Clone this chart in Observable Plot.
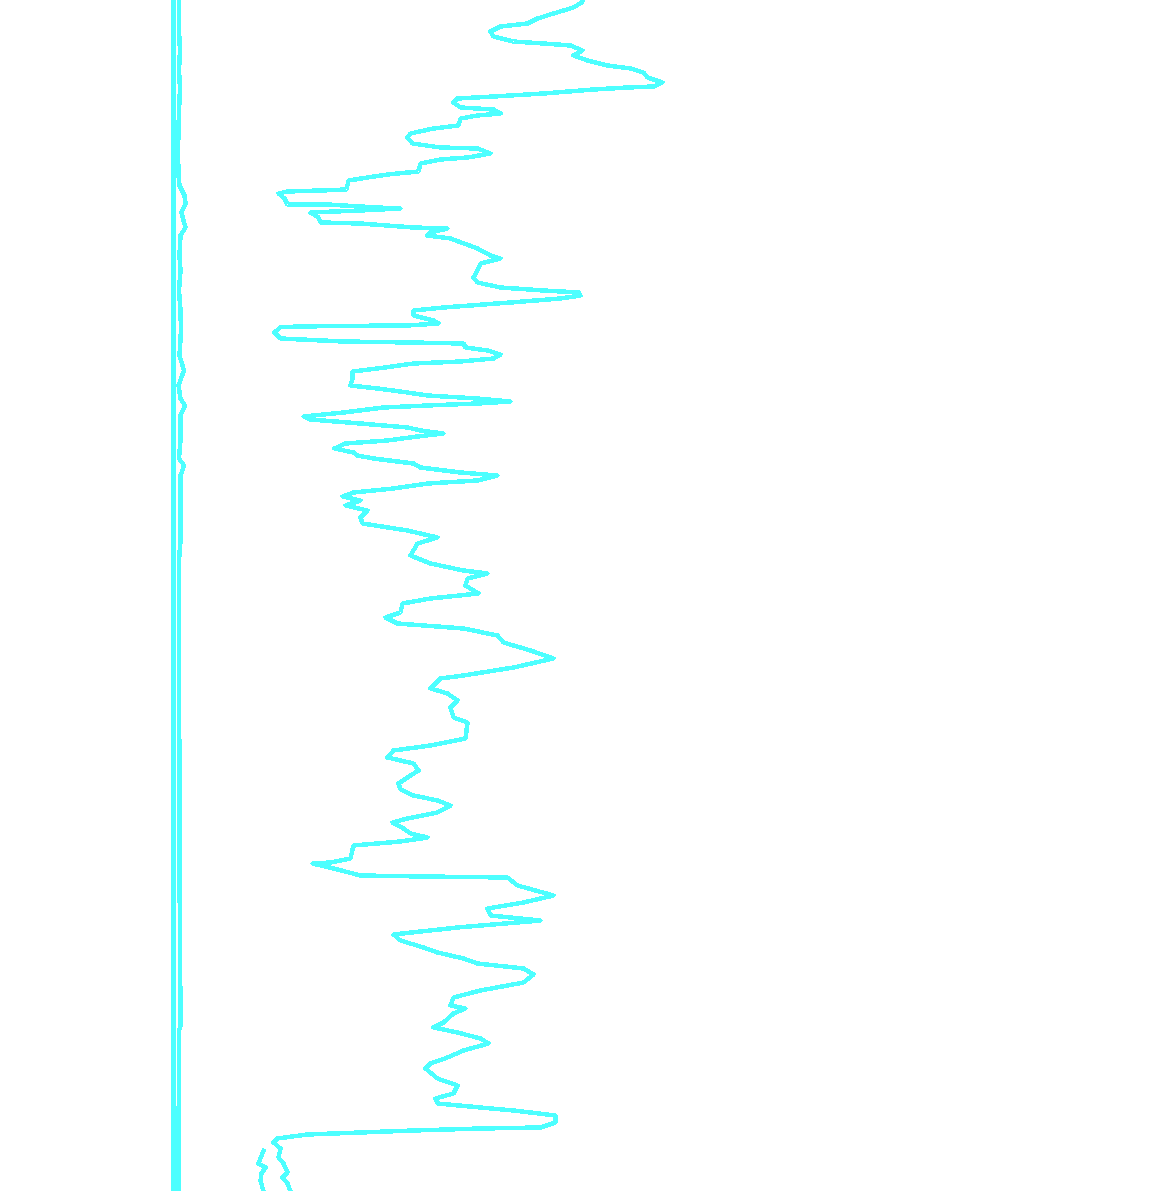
<!DOCTYPE html>
<html>
<head>
<meta charset="utf-8">
<script src="https://cdn.jsdelivr.net/npm/d3@7"></script>
<script src="https://cdn.jsdelivr.net/npm/@observablehq/plot@0.6"></script>
<style>
  html, body { margin: 0; padding: 0; background: #fff; overflow: hidden; }
  #chart svg { display: block; }
</style>
</head>
<body>
<div id="chart"></div>
<script>
// Main log curve: depth (m, relative) and value
const mainDepth = [0,0.2,0.7,1.3,1.8,2.3,2.6,3.1,3.6,4.1,4.3,4.5,5.0,5.5,6.0,6.5,6.8,7.2,7.7,8.2,8.6,8.7,8.9,9.3,9.6,9.8,10.2,10.7,10.9,11.3,11.5,11.8,12.5,12.8,13.3,13.7,14.3,14.7,14.8,15.3,15.7,15.9,16.3,17.1,17.4,17.7,18.0,18.9,19.0,19.1,19.3,19.8,20.4,20.4,20.7,20.8,21.0,21.2,21.7,22.2,22.3,22.7,22.8,23.2,23.5,23.8,24.8,25.5,25.8,26.3,26.8,27.7,28.2,28.7,29.0,29.2,29.5,29.8,30.2,30.7,31.0,31.5,32.0,32.3,32.5,32.55,32.65,33.2,33.8,34.1,34.2,34.3,34.7,35.0,35.4,35.8,36.1,36.3,36.8,37.1,37.8,38.5,38.8,39.2,39.5,39.8,40.1,40.3,40.5,40.7,41.2,41.6,41.9,42.3,42.7,43.0,43.3,43.6,44.0,44.3,44.8,45.2,45.5,45.8,46.3,46.7,47.2,47.5,48.0,48.3,48.8,49.2,49.6,50.0,50.5,51.0,51.7,52.3,53.0,53.7,54.3,55.5,56.3,57.0,57.3,57.8,58.5,59.3,59.8,60.3,61.2,61.7,62.3,62.8,63.5,64.2,65.0,65.8,66.7,67.5,67.8,68.8,69.3,70.0,70.7,71.7,72.2,73.8,74.5,75.0,75.7,76.3,77.0,77.5,78.3,78.9,79.5,80.0,80.5,81.2,81.8,82.2,82.8,83.3,83.7,84.1,84.5,85.8,86.2,86.3,86.8,87.5,87.6,87.7,88.5,89.5,90.2,90.8,91.5,92.0,92.7,93.4,94.0,94.7,95.2,95.8,96.3,96.8,97.4,98.2,99.0,99.7,100.5,100.8,101.3,102.2,102.7,103.2,103.8,104.3,105.0,105.7,106.3,106.8,107.8,108.5,109.3,109.8,110.3,110.7,111.0,111.5,112.2,112.7,112.8,113.0,113.4,113.8,114.2,114.8,115.7,116.3,117.2,117.7,118.3,119.1];
const mainValue = [58.2,58.1,57.3,55.3,53.7,52.7,50.0,49.0,49.3,51.3,54.3,57.0,58.2,57.3,58.7,60.7,63.0,64.3,64.7,66.2,65.3,62.7,59.3,54.3,49.3,45.7,45.3,46.0,49.3,50.0,47.7,46.0,45.8,43.3,41.0,40.7,41.2,44.0,47.7,49.0,46.7,44.0,42.0,41.8,38.7,36.7,34.8,34.6,32.0,28.7,27.8,28.4,28.7,32.7,37.7,40.0,36.0,31.0,31.8,32.0,36.0,41.3,44.7,43.0,42.7,45.0,47.7,49.0,50.0,48.0,47.8,47.3,47.7,50.0,54.3,57.8,58.0,56.0,51.0,44.3,41.3,41.3,43.3,43.8,40.7,33.0,28.0,27.4,28.0,34.3,41.0,46.3,46.5,48.7,50.0,49.3,46.0,41.3,37.7,35.2,35.2,35.0,37.7,40.7,42.7,47.7,51.0,47.7,42.7,38.3,34.3,30.3,31.0,36.0,40.7,42.0,44.3,41.7,38.7,34.5,33.4,35.3,35.7,37.3,41.3,42.0,46.0,49.7,47.7,42.7,39.3,35.3,34.2,36.0,34.5,36.7,36.0,36.2,40.7,43.7,41.7,41.0,43.0,46.3,48.7,46.7,46.5,47.8,43.0,40.2,40.0,38.5,39.7,46.3,49.7,50.3,53.0,55.3,51.3,46.3,44.0,43.0,44.7,45.7,45.0,45.3,46.7,46.5,43.0,39.3,38.7,41.3,41.8,41.0,39.8,40.0,41.3,43.7,45.0,43.7,40.7,39.2,40.3,41.0,42.7,40.0,35.3,35.0,33.0,31.2,33.3,36.0,42.3,50.7,51.7,55.3,52.3,48.7,49.0,54.0,45.7,39.3,40.0,42.3,43.7,46.3,47.7,52.3,53.3,52.3,48.0,45.3,45.0,46.5,45.3,44.3,43.3,45.7,48.0,48.8,46.3,44.7,43.0,42.5,43.7,45.7,45.3,43.5,43.7,48.0,51.3,55.5,55.5,54.0,48.0,41.3,30.7,27.7,27.3,28.0,27.8,28.3,28.7,28.2,28.7,29.0];

// Near-constant reference trace
const refDepth = [0, 119.1];
const refValue = [17.3, 17.3];

// Second low-amplitude trace
const lowDepth = [0,3.0,5.0,7.0,8.8,11.0,15.0,17.5,18.5,19.5,20.3,21.2,22.0,22.7,23.5,25.5,27.0,29.0,31.0,33.0,35.5,37.0,38.5,39.8,40.5,41.5,44.0,45.8,46.5,47.5,50.0,54.0,56.0,70.0,77.5,83.5,86.0,102.5,103.0,119.1];
const lowValue = [17.85,17.85,17.95,17.85,17.95,17.85,17.75,17.8,17.9,18.4,18.5,18.1,18.3,18.5,18.0,17.9,18.0,17.85,18.0,18.05,17.9,18.35,17.8,18.0,18.45,18.0,18.0,17.85,18.35,18.0,18.0,18.0,17.85,17.85,17.9,17.9,17.9,18.0,17.85,17.8];

// Short trace at the base
const baseDepth = [115.0,116.3,116.7,117.3,118.0,119.1];
const baseValue = [26.3,25.8,26.5,26.1,26.0,26.3];

const toRows = (d, v) => d.map((depth, i) => ({depth, value: v[i]}));
const color = "#4dffff";
const sw = 4.5;
const opts = {x: "value", y: "depth", stroke: color, strokeWidth: sw, clip: true, shapeRendering: "crispEdges"};

const chart = Plot.plot({
  width: 1151,
  height: 1191,
  margin: 0,
  x: {domain: [0, 115.1], axis: null},
  y: {domain: [0, 119.1], reverse: true, axis: null},
  marks: [
    Plot.line(toRows(refDepth, refValue), opts),
    Plot.line(toRows(lowDepth, lowValue), opts),
    Plot.line(toRows(baseDepth, baseValue), opts),
    Plot.line(toRows(mainDepth, mainValue), opts)
  ]
});
document.getElementById("chart").appendChild(chart);
</script>
</body>
</html>
